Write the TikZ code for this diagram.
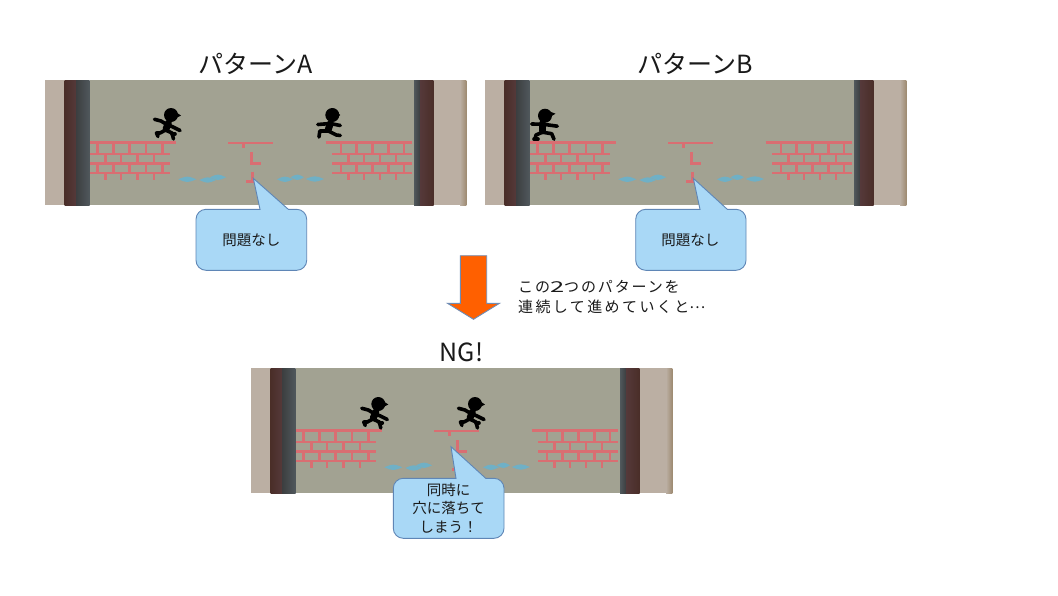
\documentclass[tikz,border=0pt]{standalone}
\usepackage{fontspec}
\setmainfont{Noto Sans CJK JP}
\definecolor{beigeA}{HTML}{BBAFA3}
\definecolor{beigeB}{HTML}{9E8B72}
\definecolor{wallbg}{HTML}{A2A292}
\definecolor{brownD}{HTML}{4A2E28}
\definecolor{brownM}{HTML}{7E5046}
\definecolor{brownE}{HTML}{55393A}
\definecolor{greyD}{HTML}{3C3E40}
\definecolor{greyL}{HTML}{50585C}
\definecolor{brick}{HTML}{D96E72}
\definecolor{water}{HTML}{6FB0C6}
\definecolor{bubble}{HTML}{A9D8F6}
\definecolor{bubbleedge}{HTML}{5F86B6}
\definecolor{arroworange}{HTML}{FF6000}
\definecolor{arrowedge}{HTML}{6F8CB4}
\definecolor{inktext}{HTML}{1A1A1A}
\newcommand{\lensshape}[3]{\fill[water] (#1,#3) .. controls ({(#1+#2)/2},{#3-3.6}) .. (#2,#3) .. controls ({(#1+#2)/2},{#3+3.6}) .. (#1,#3);}
\tikzset{
  titletext/.style={font=\fontsize{25}{28}\selectfont,text=inktext,inner sep=0pt},
  calltext/.style={font=\fontsize{14.5}{18.5}\selectfont,text=inktext,align=center,inner sep=0pt},
  notetext/.style={font=\fontsize{15}{20}\selectfont,text=inktext,align=left,inner sep=0pt},
  bubbleshape/.style={fill=bubble,draw=bubbleedge,line width=0.9pt,line join=miter},
  bigarrow/.style={fill=arroworange,draw=arrowedge,line width=0.9pt,line join=miter},
  brickthick/.style={brick,line width=3.4pt},
  brickrow/.style={brick,line width=2.6pt},
  brickpost/.style={brick,line width=2.6pt},
  limb/.style={black,line width=3.6pt,line cap=round,line join=round},
  trunk/.style={black,line width=7pt,line cap=round},
  scene/.pic={
    \fill[beigeA] (0,0) rectangle (20,125);
    \shade[left color=brownD,middle color=brownM,right color=brownE] (19.5,0) rectangle (31,125);
    \shade[left color=greyD,right color=greyL] (31,0) rectangle (44.5,125);
    \fill[wallbg] (44.5,0) rectangle (369,125);
    \shade[left color=greyL,right color=greyD] (369,0) rectangle (375,125);
    \shade[left color=brownE,middle color=brownM,right color=brownD] (375,0) rectangle (388.5,125);
    \fill[beigeA] (388.5,0) rectangle (415,125);
    \shade[left color=beigeA,right color=beigeB] (415,0) rectangle (421.3,125);
    % left wall
    \draw[brickthick] (44.5,62.7) -- (131,62.7);
    \foreach \yy in {74,83.6,92.8} \draw[brickrow] (44.5,\yy) -- (125,\yy);
    \foreach \xx in {52.7,68.3,84.3,101,117.7} {
      \draw[brickpost] (\xx,62.7) -- (\xx,74);
      \draw[brickpost] (\xx,83.6) -- (\xx,92.8);
    }
    \foreach \xx in {60.7,76,92.7,109} {
      \draw[brickpost] (\xx,74) -- (\xx,83.6);
      \draw[brickpost] (\xx,92.8) -- (\xx,100);
    }
    % right wall
    \draw[brickthick] (280.7,62.7) -- (366.7,62.7);
    \foreach \yy in {74,83.6,92.8} \draw[brickrow] (287,\yy) -- (366.7,\yy);
    \foreach \xx in {296,311.7,327.3,343.3,359} {
      \draw[brickpost] (\xx,62.7) -- (\xx,74);
      \draw[brickpost] (\xx,83.6) -- (\xx,92.8);
    }
    \foreach \xx in {303.3,319,335,351} {
      \draw[brickpost] (\xx,74) -- (\xx,83.6);
      \draw[brickpost] (\xx,92.8) -- (\xx,100);
    }
    % middle ruin
    \draw[brick,line width=2.8pt] (183.3,63) -- (227.7,63);
    \draw[brickpost] (198.3,63) -- (198.3,67.7);
    \draw[brickpost] (206.7,72.3) -- (206.7,83.5) -- (216,83.5);
    \draw[brickpost] (207.2,91.7) -- (207.2,101.7) -- (201,101.7);
    % water
    \lensshape{133.3}{151.3}{99.3}
    \lensshape{154.3}{171}{100}
    \lensshape{165}{181}{97.3}
    \lensshape{232}{248}{99.3}
    \lensshape{245.7}{259}{97.3}
    \lensshape{260.7}{279}{99}
  },
  runnerjump/.pic={
    \fill[black] (0,0) circle (7);
    \fill[black] (4,-3.5) -- (10,0.5) -- (4,3.5) -- cycle;
    \draw[trunk] (-2.5,8) -- (-5,14);
    \draw[limb] (-16.5,4.3) -- (-10,6) -- (-4.3,9.5) -- (1,11.5) -- (9,15.5);
    \draw[limb] (-5.5,15) -- (-11,18) -- (-14.5,18) -- (-13,21.5);
    \draw[limb] (-5.5,15) -- (1,18) -- (2.5,24);
    \draw[limb] (1,19) -- (4,19);
  },
  runnerleap/.pic={
    \fill[black] (0,0) circle (7);
    \fill[black] (4,-3) -- (8,0) -- (4,3) -- cycle;
    \draw[trunk] (-2,8.5) -- (-4,14.5);
    \draw[limb] (-14.5,9.5) -- (-2,8.5) -- (8,10.5);
    \draw[limb] (-4,16) -- (-12.5,16) -- (-13.3,22);
    \draw[limb] (-4,16) -- (4,20) -- (8,20.5);
  },
  runnerstride/.pic={
    \fill[black] (0,0) circle (7);
    \fill[black] (4,-4.5) -- (10.5,-2) -- (4,2) -- cycle;
    \draw[trunk] (-2.7,8) -- (-2.7,15);
    \draw[limb] (-13.3,8.3) -- (-2,8.5) -- (12.3,10.5);
    \draw[limb] (-2.7,16.5) -- (-9,19.3) -- (-10,23.5);
    \draw[limb] (-2.7,16.5) -- (6.7,18) -- (9,23.5);
    \draw[limb] (-11,23.5) -- (-7,23.5);
  }
}
\begin{document}
\begin{tikzpicture}[x=1pt,y=-1pt]
\useasboundingbox (0,0) rectangle (1058,595);
\fill[white] (0,0) rectangle (1058,595);
% scenes
\pic at (45,80) {scene};
\pic at (485,80) {scene};
\pic at (251,368) {scene};
\pic at (171,115) {runnerjump};
\pic at (332.3,115) {runnerleap};
\pic at (545,115.7) {runnerstride};
\pic at (378.3,404) {runnerjump};
\pic at (475,404) {runnerjump};
% titles
\node[titletext] (titleA) at (255.5,64) {パターンA};
\node[titletext] (titleB) at (695.5,64) {パターンB};
\node[titletext] (titleNG) at (461.5,352) {NG!};
% callouts
\draw[bubbleshape] (253.3,178.3) -- (260,209.3)
  [rounded corners=10pt] -- (196,209.3) -- (196,270.3) -- (306.7,270.3) -- (306.7,209.3) [sharp corners] -- (288.3,209.3) -- cycle;
\node[calltext] (callA) at (251.3,240) {問題なし};
\draw[bubbleshape] (693.3,178.3) -- (700,209.3)
  [rounded corners=10pt] -- (635.7,209.3) -- (635.7,270.3) -- (746,270.3) -- (746,209.3) [sharp corners] -- (727.3,209.3) -- cycle;
\node[calltext] (callB) at (690.3,240) {問題なし};
\draw[bubbleshape] (451,446.7) -- (456,478.3)
  [rounded corners=10pt] -- (393.3,478.3) -- (393.3,538.3) -- (504,538.3) -- (504,478.3) [sharp corners] -- (485.7,478.3) -- cycle;
\node[calltext] (callNG) at (448.5,508) {同時に\\穴に落ちて\\しまう！};
% arrow
\draw[bigarrow] (460.3,255.7) -- (486.7,255.7) -- (486.7,303.3) -- (499.5,303.3) -- (473.5,319.3) -- (447.5,303.3) -- (460.3,303.3) -- cycle;
\node[notetext,anchor=north west] (note) at (518,280.5) {{\addfontfeatures{LetterSpace=12.5}この\scalebox{1.7}[1]{2}つのパターンを}\\{\addfontfeatures{LetterSpace=16}連続して進めていくと}\raisebox{4pt}{…}};
\end{tikzpicture}
\end{document}
